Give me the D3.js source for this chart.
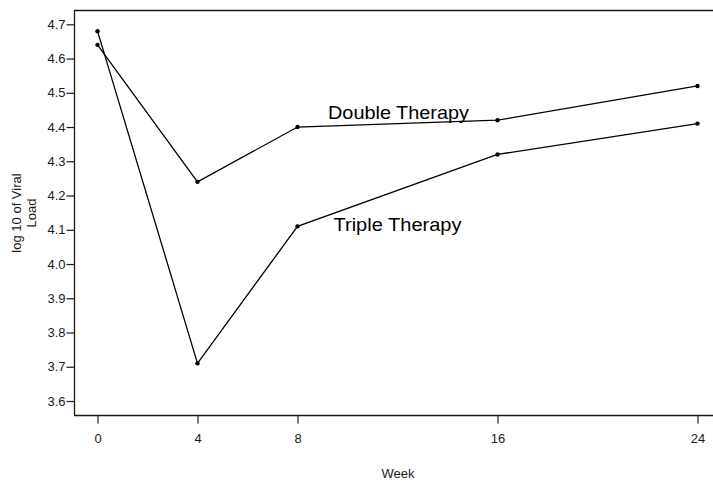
<!DOCTYPE html>
<html><head><meta charset="utf-8">
<script src="https://cdn.jsdelivr.net/npm/d3@7"></script>
<style>
html,body{margin:0;padding:0;background:#fff;}
svg{display:block;font-family:"Liberation Sans",Arial,sans-serif;}
</style></head>
<body>
<svg id="c" width="713" height="482"></svg>
<script>
const weeks = [0, 4, 8, 16, 24];
const doubleTherapy = [4.64, 4.24, 4.40, 4.42, 4.52];
const tripleTherapy = [4.68, 3.71, 4.11, 4.32, 4.41];
const yTicks = [3.6, 3.7, 3.8, 3.9, 4.0, 4.1, 4.2, 4.3, 4.4, 4.5, 4.6, 4.7];
const seriesNames = ["Double Therapy", "Triple Therapy"];

(function () {
const svg = d3.select("#c");
const x = d3.scaleLinear().domain([0, 24]).range([97.5, 697.5]);
const y = d3.scaleLinear().domain([3.6, 4.7]).range([401, 24.3]);
const pLeft = 74, pRight = 713, pTop = 10, pBottom = 415;
const ink = "#1a1a1a";

// frame lines: top, left, bottom
svg.append("line").attr("x1", pLeft).attr("x2", pRight).attr("y1", pTop + 0.5).attr("y2", pTop + 0.5).attr("stroke", ink).attr("stroke-width", 1.3);
svg.append("line").attr("x1", pLeft + 0.5).attr("x2", pLeft + 0.5).attr("y1", pTop).attr("y2", pBottom).attr("stroke", ink).attr("stroke-width", 1.3);
svg.append("line").attr("x1", pLeft).attr("x2", pRight).attr("y1", pBottom + 0.5).attr("y2", pBottom + 0.5).attr("stroke", ink).attr("stroke-width", 1.3);

// y axis
const yAxis = d3.axisLeft(y).tickValues(yTicks).tickFormat(d3.format(".1f")).tickSize(8).tickPadding(1);
const gy = svg.append("g").attr("transform", `translate(${pLeft + 0.5},0)`).call(yAxis);
gy.select(".domain").remove();
gy.selectAll("line").attr("stroke", ink).attr("stroke-width", 1.2);
gy.selectAll("text").attr("font-size", 13).attr("fill", ink).attr("font-family", "Liberation Sans, Arial, sans-serif");

// x axis
const xAxis = d3.axisBottom(x).tickValues(weeks).tickSize(8).tickPadding(10);
const gx = svg.append("g").attr("transform", `translate(0,${pBottom + 0.5})`).call(xAxis);
gx.select(".domain").remove();
gx.selectAll("line").attr("stroke", ink).attr("stroke-width", 1.2);
gx.selectAll("text").attr("font-size", 13).attr("fill", ink).attr("font-family", "Liberation Sans, Arial, sans-serif");

// axis titles
svg.append("text").attr("x", 398).attr("y", 478).attr("text-anchor", "middle")
  .attr("font-size", 13).attr("fill", ink).text("Week");
const yl = svg.append("text").attr("transform", "translate(0,213) rotate(-90)")
  .attr("text-anchor", "middle").attr("font-size", 13).attr("fill", ink);
yl.append("tspan").attr("x", 0).attr("y", 21).text("log 10 of Viral");
yl.append("tspan").attr("x", 0).attr("y", 36).text("Load");

// series
const line = d3.line().x((d, i) => x(weeks[i])).y(d => y(d));
[doubleTherapy, tripleTherapy].forEach(s => {
  svg.append("path").datum(s).attr("d", line).attr("fill", "none")
    .attr("stroke", "#000").attr("stroke-width", 1.3);
  svg.selectAll(null).data(s).enter().append("circle")
    .attr("cx", (d, i) => x(weeks[i])).attr("cy", d => y(d)).attr("r", 2.2).attr("fill", "#000");
});

// series labels
svg.append("text").attr("x", 328).attr("y", 118.5).attr("font-size", 19)
  .attr("textLength", 141).attr("lengthAdjust", "spacingAndGlyphs").attr("fill", "#000").text(seriesNames[0]);
svg.append("text").attr("x", 333.5).attr("y", 230.5).attr("font-size", 19)
  .attr("textLength", 128).attr("lengthAdjust", "spacingAndGlyphs").attr("fill", "#000").text(seriesNames[1]);
})();
</script>
</body></html>
